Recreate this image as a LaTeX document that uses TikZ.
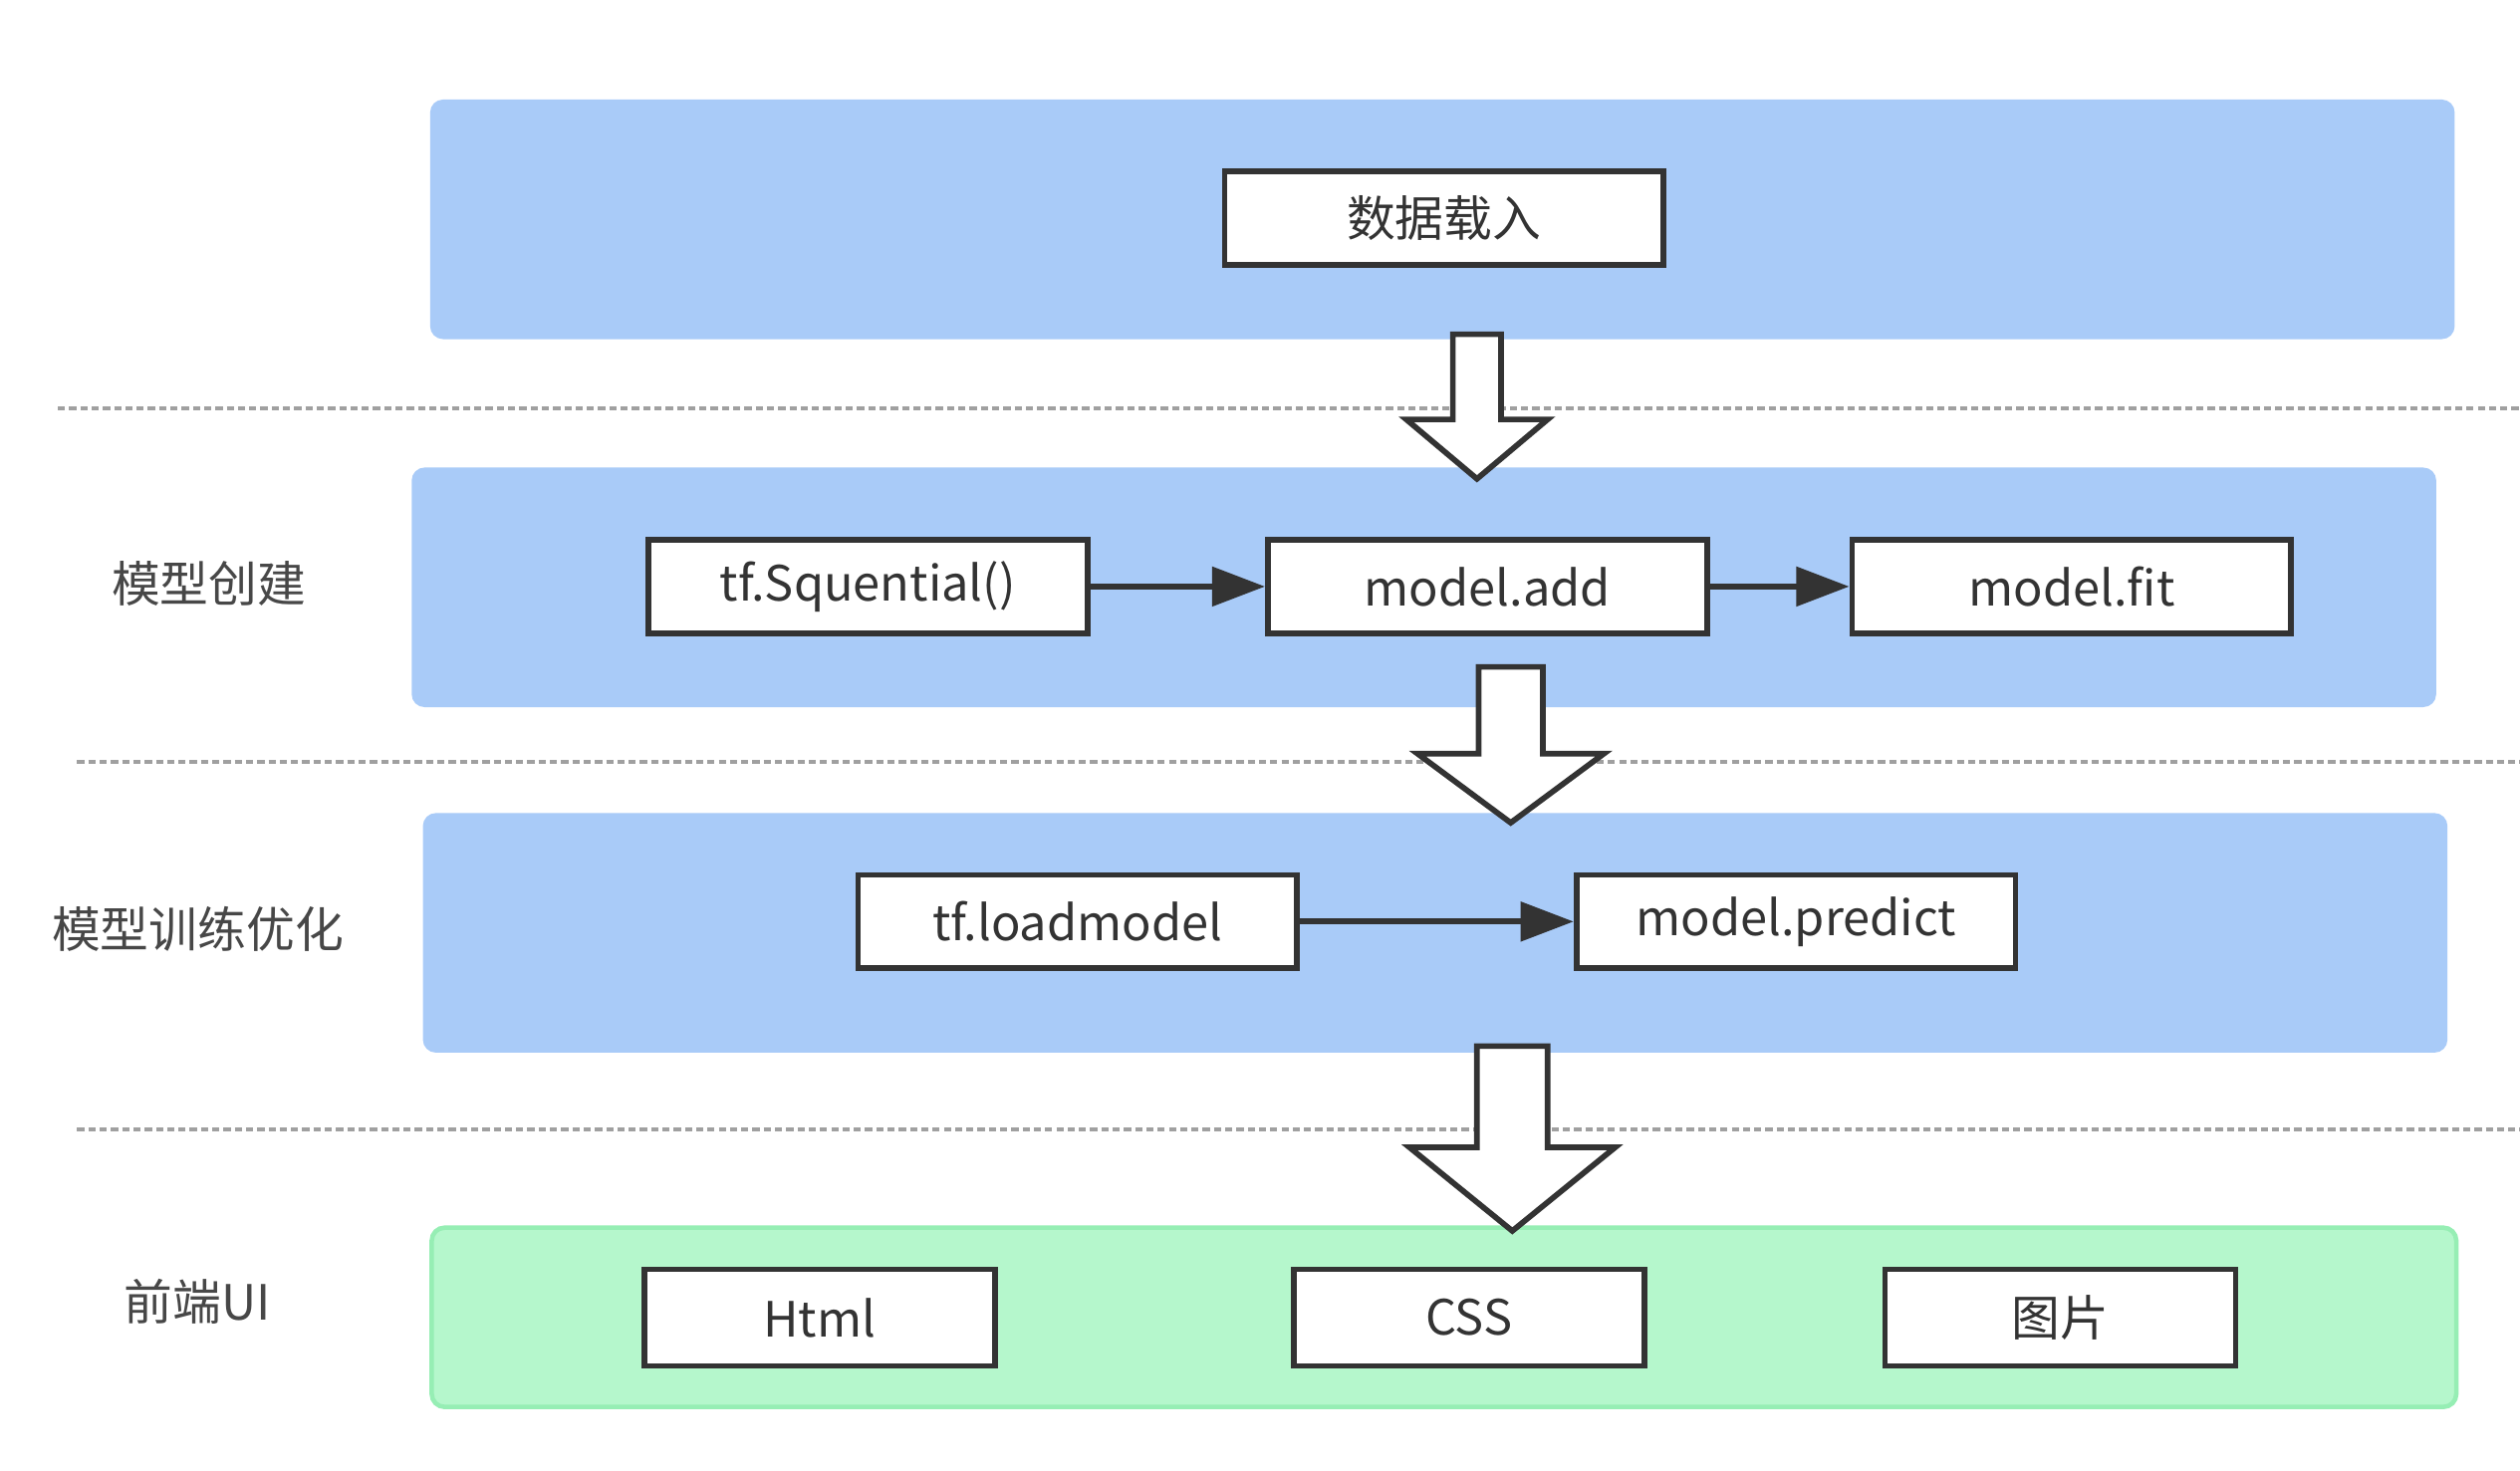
\documentclass[tikz,border=0pt]{standalone}
\usepackage{fontspec}
\setmainfont{Noto Sans CJK SC}
\usetikzlibrary{arrows.meta}

\definecolor{laneblue}{RGB}{169,203,248}
\definecolor{lanegreen}{RGB}{181,247,204}
\definecolor{lanegreenedge}{RGB}{150,238,180}
\definecolor{ink}{RGB}{51,51,51}
\definecolor{sepgray}{RGB}{160,160,160}

\begin{document}
\begin{tikzpicture}[x=0.01cm,y=-0.01cm,
	font=\fontsize{8.6}{10}\selectfont,
	lane/.style={rectangle,rounded corners=0.08cm,inner sep=0pt,minimum width=12.59cm,minimum height=1.49cm},
	box/.style={rectangle,draw=ink,line width=1pt,fill=white,text=ink,inner sep=0pt,minimum width=2.73cm,minimum height=0.58cm},
	uibox/.style={box,minimum width=2.18cm,minimum height=0.6cm},
	flow/.style={draw=ink,line width=1.1pt,-{Triangle[length=0.33cm,width=0.24cm]}},
	lanelabel/.style={text=ink!90},
	blockarrow/.style={draw=ink,line width=1pt,fill=white,line join=miter}]
	\useasboundingbox (0,0) rectangle (1568,914.8);
	
	%LANES
	\node[lane,fill=laneblue] (lay1) at (897.5,136.5) {};
	\node[lane,fill=laneblue] (lay2) at (886,365.5) {};
	\node[lane,fill=laneblue] (lay3) at (893,580.5) {};
	\node[lane,fill=lanegreen,draw=lanegreenedge,line width=0.8pt,minimum height=1.115cm] (lay4) at (898.5,819.75) {};
	
	%SEPARATORS
	\draw[sepgray,line width=0.7pt,dash pattern=on 0.045cm off 0.025cm] (36,254)--(1568,254);
	\draw[sepgray,line width=0.7pt,dash pattern=on 0.045cm off 0.025cm] (48,474)--(1568,474);
	\draw[sepgray,line width=0.7pt,dash pattern=on 0.045cm off 0.025cm] (48,703)--(1568,703);
	
	%BIG ARROWS
	\foreach \cx/\top/\hd/\tip/\sw/\hw in {919/208/261/298/15/44, 940/415/469/512/20/58, 941/651/714/766/22/64}
	\draw[blockarrow] (\cx-\sw,\top)--(\cx+\sw,\top)--(\cx+\sw,\hd)--(\cx+\hw,\hd)--(\cx,\tip)--(\cx-\hw,\hd)--(\cx-\sw,\hd)--cycle;
	
	%LOAD
	\node[box] (load) at (898.5,135.7) {数据载入};
	
	%CREATE
	\node[lanelabel] (lbcreate) at (130,363) {模型创建};
	\node[box] (seq) at (540,365) {tf.Squential()};
	\node[box] (add) at (925.5,365) {model.add};
	\node[box] (fit) at (1289,365) {model.fit};
	\draw[flow] (seq)--(add);
	\draw[flow] (add)--(fit);
	
	%TRAIN
	\node[lanelabel] (lbtrain) at (123,578) {模型训练优化};
	\node[box] (loadm) at (670.5,573.5) {tf.loadmodel};
	\node[box] (pred) at (1117.5,573.5) {model.predict};
	\draw[flow] (loadm)--(pred);
	
	%UI
	\node[lanelabel] (lbui) at (123,810) {前端UI};
	\node[uibox] (html) at (510,820) {Html};
	\node[uibox] (css) at (914,820) {CSS};
	\node[uibox] (pic) at (1282,820) {图片};
\end{tikzpicture}
\end{document}
